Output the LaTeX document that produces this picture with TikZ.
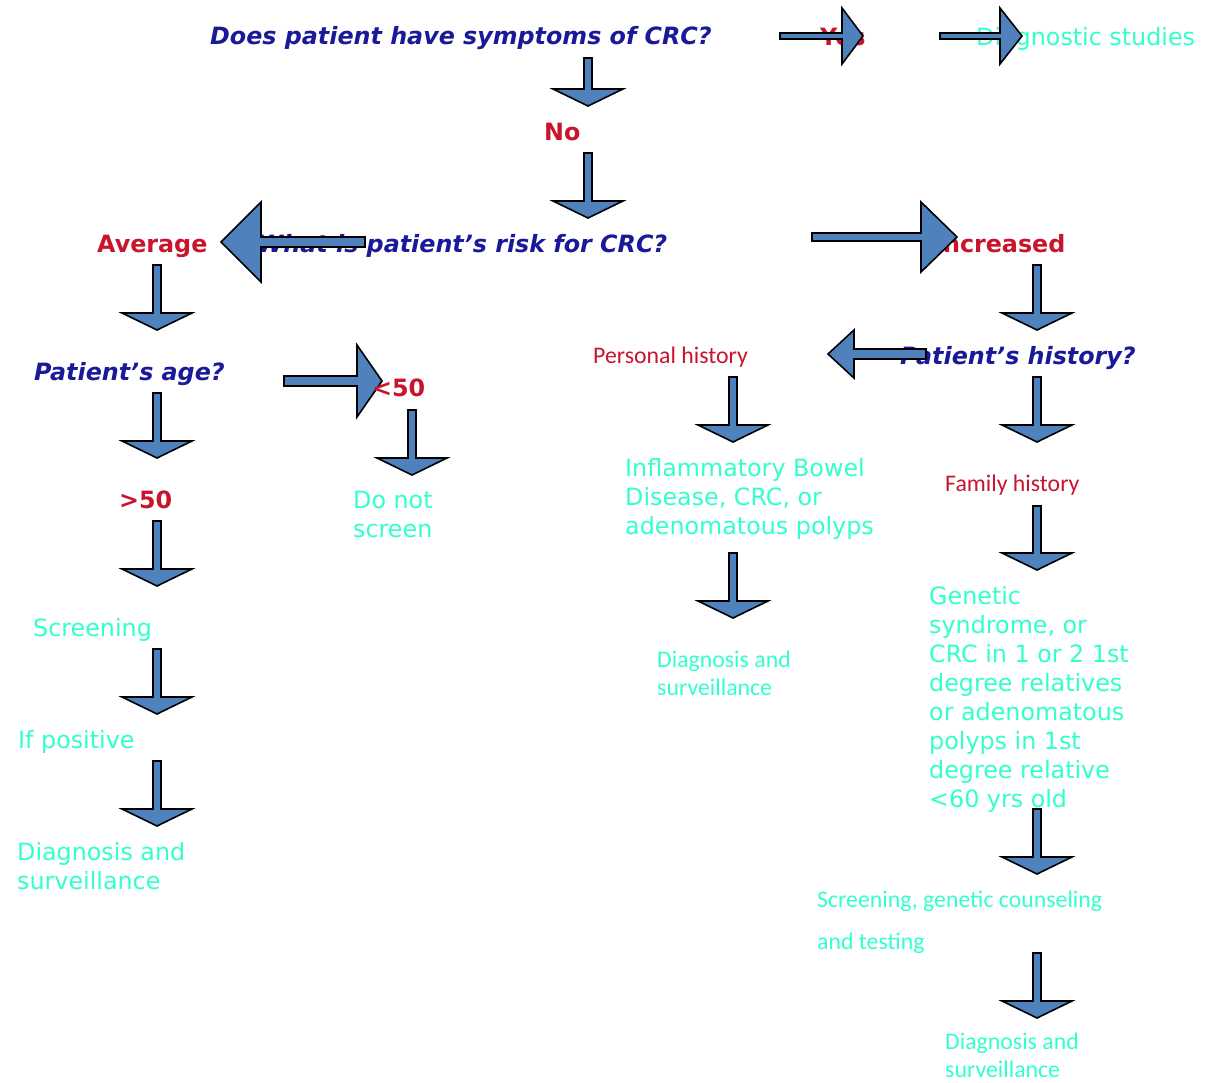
\documentclass[tikz,border=0pt]{standalone}
\usepackage{fontspec}
\newfontfamily\vfont{DejaVu Sans}
\newfontfamily\cfont{Carlito}
\definecolor{qblue}{RGB}{26,26,153}
\definecolor{lred}{RGB}{200,20,45}
\definecolor{tcyan}{RGB}{51,255,204}
\definecolor{afill}{RGB}{79,129,189}
\newcommand\myDarr[3]{%
  \draw[barrow] ({#1-4},{#2}) -- ({#1+4},{#2}) -- ({#1+4},{#3-17}) -- ({#1+35},{#3-17})
    -- ({#1},{#3}) -- ({#1-35},{#3-17}) -- ({#1-4},{#3-17}) -- cycle;}
\newcommand\myHarr[6]{%
  \draw[barrow] ({#1},{#2-#5}) -- ({#3},{#2-#5}) -- ({#3},{#2-#6}) -- ({#4},{#2})
    -- ({#3},{#2+#6}) -- ({#3},{#2+#5}) -- ({#1},{#2+#5}) -- cycle;}
\begin{document}
\begin{tikzpicture}[x=1pt,y=-1pt,
  barrow/.style={fill=afill,draw=black,line width=1.6pt,line join=miter},
  txt/.style={anchor=base west,inner sep=0pt,align=left},
  question/.style={txt,text=qblue,font=\vfont\fontsize{23.8}{29}\selectfont\bfseries\itshape},
  answer/.style={txt,text=lred,font=\vfont\fontsize{23.8}{29}\selectfont\bfseries},
  answerc/.style={txt,text=lred,font=\cfont\fontsize{23.8}{29}\selectfont},
  action/.style={txt,text=tcyan,font=\vfont\fontsize{23.8}{29}\selectfont},
  actionc/.style={txt,text=tcyan,font=\cfont\fontsize{23.8}{28}\selectfont}]
\path[use as bounding box,fill=white] (0,0) rectangle (1210,1082);
% texts (multi-line nodes are placed at the baseline of their last line)
\node[question] (q1) at (210,44) {Does patient have symptoms of CRC?};
\node[answer] (yes) at (820,45) {Yes};
\node[action] (diag) at (976,45) {Diagnostic studies};
\node[answer] (no) at (544,140) {No};
\node[question] (q2) at (257,252) {What is patient’s risk for CRC?};
\node[answer] (avg) at (97,252) {Average};
\node[answer] (inc) at (934,252) {Increased};
\node[question] (q3) at (34,380) {Patient’s age?};
\node[answerc] (pers) at (593,363) {Personal history};
\node[question] (q4) at (900,364) {Patient’s history?};
\node[answer] (gt50) at (119,508) {>50};
\node[action] (donot) at (353,537) {Do not\\screen};
\node[action] (ibd) at (625,534) {Inflammatory Bowel\\Disease, CRC, or\\adenomatous polyps};
\node[answerc] (fam) at (945,491) {Family history};
\node[action] (gen) at (929,807) {Genetic\\syndrome, or\\CRC in 1 or 2 1st\\degree relatives\\or adenomatous\\polyps in 1st\\degree relative\\<60 yrs old};
\node[action] (scr) at (33,636) {Screening};
\node[actionc] (dx2) at (657,695) {Diagnosis and\\surveillance};
\node[action] (ifpos) at (18,748) {If positive};
\node[action] (dx3) at (17,889) {Diagnosis and\\surveillance};
\node[actionc,font=\cfont\fontsize{23.8}{42}\selectfont] (scr2) at (817,949) {Screening, genetic counseling\\and testing};
\node[actionc] (dx4) at (945,1077) {Diagnosis and\\surveillance};
% block arrows
\myDarr{588}{58}{106}
\myDarr{588}{153}{218}
\myDarr{157}{265}{330}
\myDarr{1037}{265}{330}
\myDarr{157}{393}{458}
\myDarr{412}{410}{475}
\myDarr{733}{377}{442}
\myDarr{1037}{377}{442}
\myDarr{157}{521}{586}
\myDarr{1037}{506}{570}
\myDarr{733}{553}{618}
\myDarr{157}{649}{714}
\myDarr{157}{761}{826}
\myDarr{1037}{809}{874}
\myDarr{1037}{953}{1018}
\myHarr{780}{36}{842}{863}{3}{28}
\myHarr{940}{36}{1000}{1022}{3}{28}
\myHarr{365}{242}{261}{221}{5}{40}
\myHarr{812}{237}{921}{957}{4}{35}
\myHarr{926}{354}{854}{828}{5}{24}
\myHarr{284}{381}{357}{382}{5}{36}
\node[answer] (lt50) at (372,396) {<50};
\end{tikzpicture}
\end{document}
